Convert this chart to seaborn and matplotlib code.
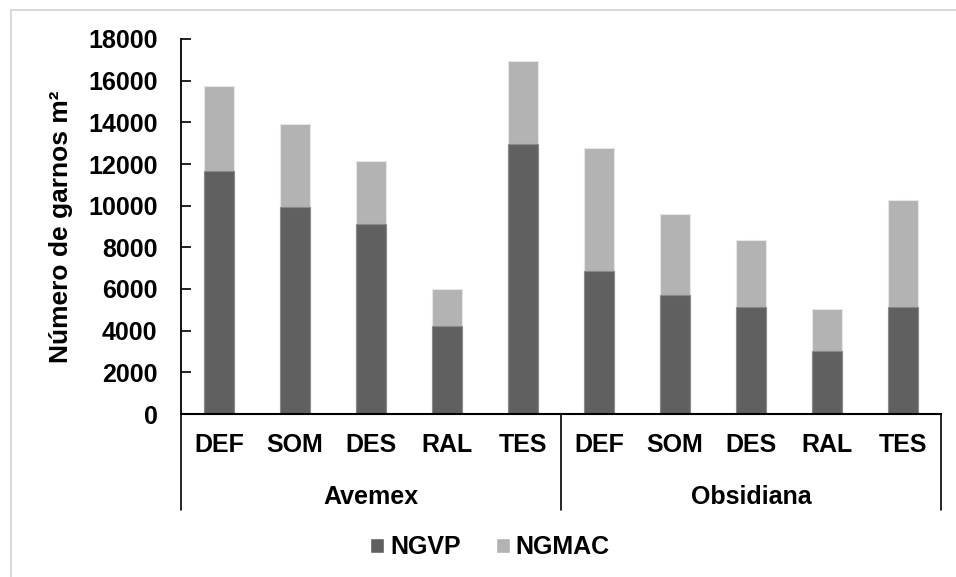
import numpy as np
import pandas as pd
import matplotlib
matplotlib.use("Agg")
import matplotlib.pyplot as plt
from matplotlib.patches import Patch
from matplotlib.lines import Line2D
import seaborn as sns

sns.set_theme(style="white")
plt.rcParams["font.family"] = ["Liberation Sans", "DejaVu Sans"]
plt.rcParams["font.weight"] = "bold"
for k in ["text.color", "axes.labelcolor", "xtick.color", "ytick.color"]:
    plt.rcParams[k] = "black"

groups = ["Avemex", "Obsidiana"]
treatments = ["DEF", "SOM", "DES", "RAL", "TES"]
ngvp = [11650, 9950, 9130, 4220, 12980, 6880, 5710, 5130, 3020, 5130]
ngmac = [4070, 3960, 3030, 1800, 3980, 5900, 3910, 3210, 2000, 5130]

dark = "#606060"
light = "#b3b3b3"
fs = 18

keys = [f"{g} {t}" for g in groups for t in treatments]
df = pd.DataFrame({
    "key": keys,
    "NGVP": ngvp,
    "total": np.array(ngvp) + np.array(ngmac),
})

fig = plt.figure(figsize=(9.56, 5.77), dpi=100)
ax = fig.add_axes([181 / 956, 1 - 414 / 577, 760 / 956, 375 / 577])

sns.barplot(data=df, x="key", y="total", order=keys, color=light,
            width=0.4, saturation=1, ax=ax, edgecolor="#e6e6e6", linewidth=0.8)
sns.barplot(data=df, x="key", y="NGVP", order=keys, color=dark,
            width=0.4, saturation=1, ax=ax, edgecolor="#8a8a8a", linewidth=0.8)

ax.set_ylim(0, 18000)
ax.set_xlim(-0.5, 9.5)
ax.set_yticks(np.arange(0, 18001, 2000))
ax.tick_params(axis="y", direction="in", length=7, width=1.2, color="black",
               labelsize=fs, pad=17, left=True)
ax.set_xticks([])
ax.set_xlabel("")
ax.set_ylabel("Número de garnos m²", fontsize=19, fontweight="bold")
ax.yaxis.set_label_coords((73 - 181) / 760, 0.5)
for lab in ax.get_yticklabels():
    lab.set_fontweight("bold")

ax.spines["top"].set_visible(False)
ax.spines["right"].set_visible(False)
ax.spines["left"].set_color("black")
ax.spines["bottom"].set_color("black")
ax.spines["left"].set_linewidth(1.3)
ax.spines["bottom"].set_linewidth(1.5)

# category labels and group separators
trans = ax.get_xaxis_transform()
for i, k in enumerate(keys):
    ax.text(i, -31 / 375, k.split()[1], transform=trans, ha="center", va="center",
            fontsize=fs, fontweight="bold")
for gi, g in enumerate(groups):
    ax.text(gi * 5 + 2, -83 / 375, g, transform=trans, ha="center", va="center",
            fontsize=fs, fontweight="bold")
for xs in [-0.5, 4.5, 9.5]:
    ax.add_line(Line2D([xs, xs], [0, -96 / 375], transform=trans, color="black",
                       linewidth=1.2, clip_on=False))

handles = [Patch(facecolor=dark, label="NGVP"), Patch(facecolor=light, label="NGMAC")]
fig.legend(handles=handles, loc="center", bbox_to_anchor=(490 / 956, 1 - 547 / 577),
           ncol=2, frameon=False, fontsize=fs, handlelength=0.55, handleheight=0.55,
           handletextpad=0.25, columnspacing=1.4)

# chart area border (left and top edges visible)
fig.add_artist(Line2D([11 / 956, 11 / 956], [0, 1 - 10 / 577], color="#d9d9d9",
                      linewidth=1.5, transform=fig.transFigure))
fig.add_artist(Line2D([11 / 956, 1], [1 - 10 / 577, 1 - 10 / 577], color="#d9d9d9",
                      linewidth=1.5, transform=fig.transFigure))

fig.savefig("out.png", dpi=100)
